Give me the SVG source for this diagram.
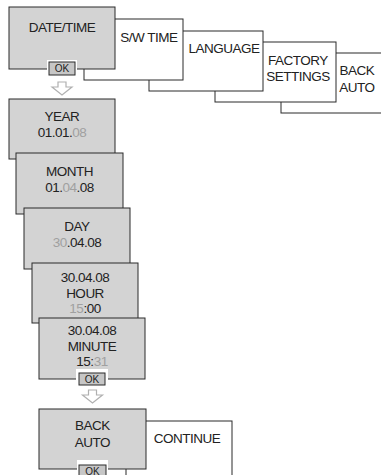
<svg xmlns="http://www.w3.org/2000/svg" width="381" height="475" viewBox="0 0 381 475">
<style>
.g{fill:#d3d3d3;stroke:#2a2a2a;stroke-width:1}
.w{fill:#fff;stroke:#2a2a2a;stroke-width:1}
.t{font-family:"Liberation Sans",Arial,sans-serif;font-size:13.5px;letter-spacing:-0.5px;fill:#222;text-anchor:middle}
.s{text-anchor:start}
.h{fill:#a0a0a0}
.okb{fill:#c6c6c6;stroke:#2a2a2a;stroke-width:1}
.okt{font-family:"Liberation Sans",Arial,sans-serif;font-size:10px;fill:#222;text-anchor:middle}
.fr{fill:#fff;stroke:none}
.ar{fill:#fff;stroke:#b0b0b0;stroke-width:1.2}
</style>
<defs>
<path id="arrow" d="M-4,0 H4 V5 H10 L0,13 L-10,5 H-4 Z"/>
</defs>
<rect width="381" height="475" fill="#fff"/>

<g id="node-backauto-top">
<rect class="w" x="281" y="53" width="110" height="60"/>
<text class="t" x="357" y="75">BACK</text>
<text class="t" x="357" y="92">AUTO</text>
</g>
<g id="node-factory">
<rect class="w" x="215" y="42" width="121" height="60"/>
<text class="t" x="298" y="65">FACTORY</text>
<text class="t" x="298" y="81">SETTINGS</text>
</g>
<g id="node-language">
<rect class="w" x="149" y="31" width="114" height="60"/>
<text class="t" x="224" y="53">LANGUAGE</text>
</g>
<g id="node-swtime">
<rect class="w" x="84" y="19" width="99" height="61"/>
<text class="t" x="149" y="42">S/W TIME</text>
</g>
<g id="node-datetime">
<rect class="g" x="9" y="7" width="106" height="62"/>
<text class="t" x="62" y="31.5">DATE/TIME</text>
<rect class="fr" x="47" y="60" width="30" height="17"/>
<rect class="okb" x="49" y="62" width="26" height="13"/>
<text class="okt" x="62" y="72">OK</text>
</g>

<g id="connectors">
<use href="#arrow" class="ar" x="62" y="82"/>
<use href="#arrow" class="ar" x="92.5" y="390"/>
</g>

<g id="node-year">
<rect class="g" x="9" y="99" width="106" height="60"/>
<text class="t" x="62" y="121">YEAR</text>
<text class="t" x="62" y="137">01.01.<tspan class="h">08</tspan></text>
</g>
<g id="node-month">
<rect class="g" x="16" y="153" width="107" height="61"/>
<text class="t" x="69.5" y="176">MONTH</text>
<text class="t" x="69.5" y="192">01.<tspan class="h">04</tspan>.08</text>
</g>
<g id="node-day">
<rect class="g" x="24" y="208" width="106" height="61"/>
<text class="t" x="77" y="231">DAY</text>
<text class="t" x="77" y="247"><tspan class="h">30</tspan>.04.08</text>
</g>
<g id="node-hour">
<rect class="g" x="32" y="263" width="106" height="60"/>
<text class="t" x="85" y="282">30.04.08</text>
<text class="t" x="85" y="297.5">HOUR</text>
<text class="t" x="85" y="313"><tspan class="h">15</tspan>:00</text>
</g>
<g id="node-minute">
<rect class="g" x="39" y="318" width="106" height="61"/>
<text class="t" x="92" y="335">30.04.08</text>
<text class="t" x="92" y="350.5">MINUTE</text>
<text class="t" x="92" y="366">15:<tspan class="h">31</tspan></text>
<rect class="fr" x="76" y="369" width="32" height="18"/>
<rect class="okb" x="79" y="373" width="26" height="12"/>
<text class="okt" x="92" y="382.5">OK</text>
</g>

<g id="node-continue">
<rect class="w" x="126" y="421" width="106" height="80"/>
<text class="t" x="187" y="443">CONTINUE</text>
</g>
<g id="node-backauto">
<rect class="g" x="39" y="409" width="107" height="60"/>
<text class="t" x="92.5" y="430">BACK</text>
<text class="t" x="92.5" y="447">AUTO</text>
<rect class="fr" x="77" y="460" width="31" height="20"/>
<rect class="okb" x="79" y="465" width="27" height="13"/>
<text class="okt" x="92.5" y="474.5">OK</text>
</g>
</svg>
